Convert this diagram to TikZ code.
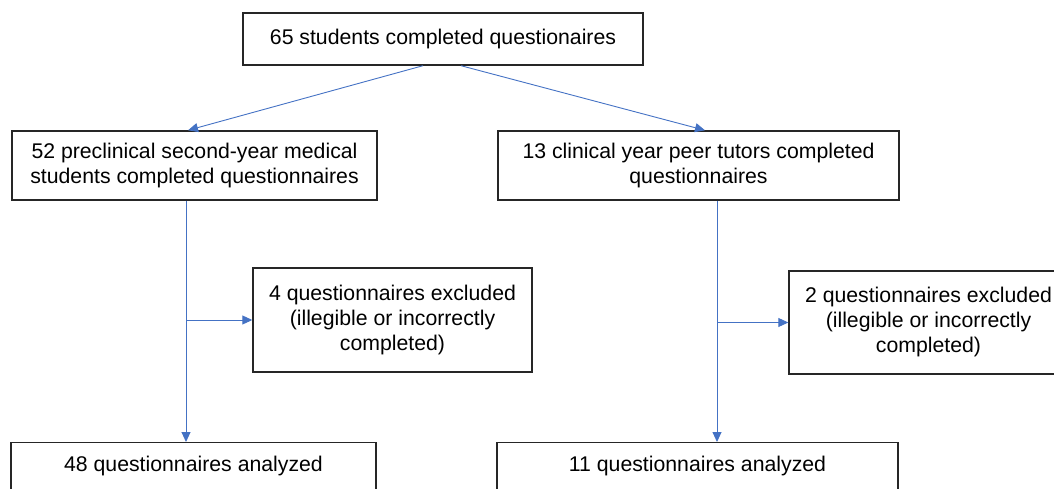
\documentclass[tikz,border=0pt]{standalone}
\usepackage{fontspec}
\setmainfont{Liberation Sans}
\usepackage{xcolor}
\usepackage{tikz}
\usetikzlibrary{arrows.meta, positioning}

\definecolor{flowblue}{HTML}{4472C4}

\begin{document}
\begin{tikzpicture}[
    x=1pt, y=-1pt,
    block/.style={rectangle, draw=black!85, line width=1.4pt, align=center, inner sep=0pt,
        font=\fontsize{21.25}{25}\selectfont},
    arrow/.style={draw=flowblue, line width=0.9pt, -{Triangle[length=10pt,width=9pt]}}
]
\useasboundingbox (0,0) rectangle (1054,489);

\node[block, minimum width=400, minimum height=52] (top) at (443,39) {65 students completed questionaires};
\node[block, minimum width=365, minimum height=69] (pre) at (194.5,165.5) {52 preclinical second-year medical\\students completed questionnaires};
\node[block, minimum width=401, minimum height=69] (clin) at (698.5,165.5) {13 clinical year peer tutors completed\\questionnaires};
\node[block, minimum width=279, minimum height=104] (exclpre) at (392.5,320) {4 questionnaires excluded\\(illegible or incorrectly\\completed)};
\node[block, minimum width=279, minimum height=103] (exclclin) at (928.5,322.5) {2 questionnaires excluded\\(illegible or incorrectly\\completed)};
\node[block, minimum width=365, minimum height=56, text depth=14pt, anchor=north] (anpre) at (193.5,442) {48 questionnaires analyzed};
\node[block, minimum width=401, minimum height=56, text depth=14pt, anchor=north] (anclin) at (697.5,442) {11 questionnaires analyzed};

\draw[arrow] ([xshift=-20]top.south) -- ([xshift=-6.5]pre.north);
\draw[arrow] ([xshift=18]top.south) -- ([xshift=6.5]clin.north);

\draw[arrow] ([xshift=-8.5]pre.south) -- ([xshift=-8.5]pre.south |- anpre.north);
\draw[arrow] ([xshift=-8.5]pre.south |- exclpre.west) -- (exclpre.west);

\draw[arrow] ([xshift=18.5]clin.south) -- ([xshift=18.5]clin.south |- anclin.north);
\draw[arrow] ([xshift=18.5]clin.south |- exclclin.west) -- (exclclin.west);

\end{tikzpicture}
\end{document}
